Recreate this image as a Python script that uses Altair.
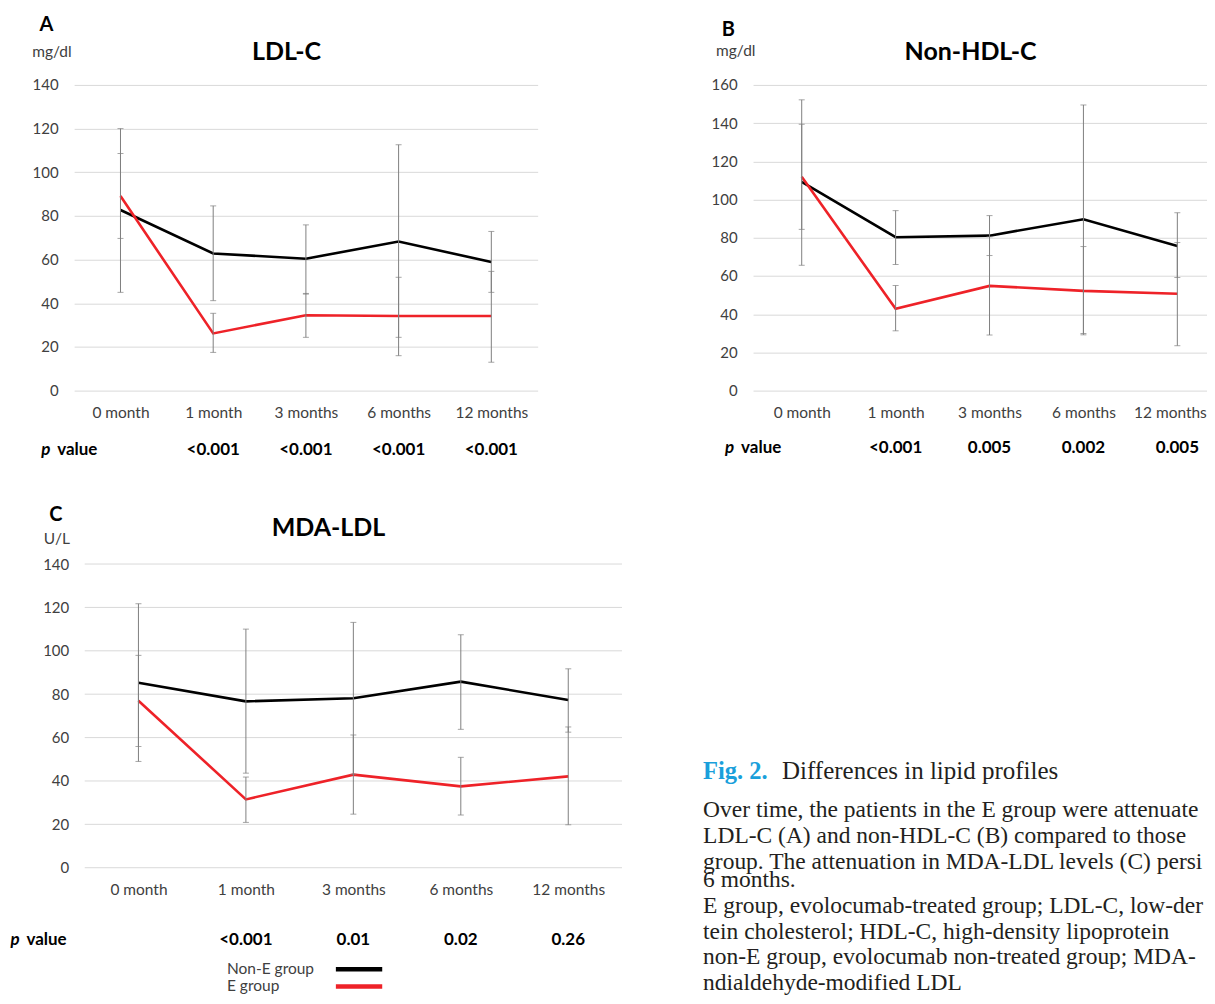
import altair as alt
import pandas as pd

times = ["0 month", "1 month", "3 months", "6 months", "12 months"]
groups = ["Non-E group", "E group"]
line_colors = ["#000000", "#ee2228"]

# Panel A: LDL-C (mg/dl)
a_nonE_mean = [82.7, 62.8, 60.4, 68.3, 58.9]
a_nonE_hi = [120.0, 84.6, 75.9, 112.6, 72.9]
a_nonE_lo = [45.0, 41.2, 44.2, 24.4, 45.0]
a_E_mean = [89.1, 26.2, 34.5, 34.2, 34.2]
a_E_hi = [108.6, 35.4, 44.5, 51.9, 54.6]
a_E_lo = [69.7, 17.5, 24.4, 16.0, 13.0]
a_p = ["", "<0.001", "<0.001", "<0.001", "<0.001"]

# Panel B: Non-HDL-C (mg/dl)
b_nonE_mean = [109.2, 80.3, 81.1, 89.7, 75.7]
b_nonE_hi = [152.2, 94.2, 91.6, 149.5, 93.1]
b_nonE_lo = [65.6, 66.0, 70.7, 29.9, 59.2]
b_E_mean = [111.9, 42.8, 54.8, 52.2, 50.7]
b_E_hi = [139.4, 55.0, 80.5, 75.4, 77.5]
b_E_lo = [84.4, 31.3, 29.1, 29.2, 23.5]
b_p = ["", "<0.001", "0.005", "0.002", "0.005"]

# Panel C: MDA-LDL (U/L)
c_nonE_mean = [85.3, 76.7, 78.1, 85.8, 77.3]
c_nonE_hi = [121.7, 110.0, 113.1, 107.4, 91.7]
c_nonE_lo = [49.0, 43.6, 43.1, 63.8, 62.5]
c_E_mean = [77.0, 31.5, 42.9, 37.5, 42.1]
c_E_hi = [97.9, 41.8, 61.2, 50.9, 64.9]
c_E_lo = [55.9, 20.9, 24.7, 24.3, 19.8]
c_p = ["", "<0.001", "0.01", "0.02", "0.26"]

caption_fig = "Fig. 2."
caption_head = "Differences in lipid profiles"
caption_block1 = [
    "Over time, the patients in the E group were attenuate",
    "LDL-C (A) and non-HDL-C (B) compared to those",
    "group. The attenuation in MDA-LDL levels (C) persi",
]
caption_block2 = [
    "6 months.",
    "E group, evolocumab-treated group; LDL-C, low-der",
    "tein cholesterol; HDL-C, high-density lipoprotein",
    "non-E group, evolocumab non-treated group; MDA-",
    "ndialdehyde-modified LDL",
]

SANS = "Lato"
SERIF = "Liberation Serif"
LABEL = "#404040"
GRID = "#d9d9d9"
ERR = "#808080"


def build_df(nonE, E):
    rows = []
    for g, (m, hi, lo) in zip(groups, [nonE, E]):
        for t, mv, hv, lv in zip(times, m, hi, lo):
            rows.append({"time": t, "group": g, "mean": mv, "hi": hv, "lo": lv})
    return pd.DataFrame(rows)


def panel(letter, unit, title, ymax, ystep, nonE, E, pvals, w, h, g,
          inset=0.0, xscale_extra=None, last_label_shift=None, legend=False):
    df = build_df(nonE, E)
    ticks = list(range(0, ymax + 1, ystep))
    sc = dict(type="point", padding=0.5, domain=times)
    if inset:
        sc["range"] = [inset, w]
    if xscale_extra:
        sc.update(xscale_extra)
    xaxis_kw = dict(
        labelAngle=0, ticks=False, domain=False, grid=False,
        labelPadding=15, labelFont=SANS, labelFontSize=15.5,
        labelColor=LABEL, title=None,
    )
    if last_label_shift is not None:
        test = "datum.label == '%s'" % times[-1]
        xaxis_kw["labelAlign"] = {"condition": {"test": test, "value": "right"}, "value": "center"}
        xaxis_kw["labelOffset"] = {"condition": {"test": test, "value": last_label_shift}, "value": 0}
    xenc = alt.X("time:O", sort=times, scale=alt.Scale(**sc), axis=alt.Axis(**xaxis_kw))
    yscale = alt.Scale(domain=[0, ymax], nice=False)
    yaxis = alt.Axis(
        values=ticks, ticks=False, domain=False,
        grid=not inset, gridColor=GRID, gridWidth=1, labelPadding=16,
        labelFont=SANS, labelFontSize=15, labelColor=LABEL, title=None,
        offset=-inset,
    )
    base = alt.Chart(df)
    layers = []
    if inset:
        layers.append(
            alt.Chart(pd.DataFrame({"v": ticks})).mark_rule(color=GRID, strokeWidth=1).encode(
                y=alt.Y("v:Q", scale=yscale, axis=yaxis, title=None),
                x=alt.value(inset), x2=alt.value(w),
            )
        )
    lines = base.mark_line(strokeWidth=2.6).encode(
        x=xenc,
        y=alt.Y("mean:Q", scale=yscale, axis=yaxis, title=None),
        color=alt.Color("group:N", scale=alt.Scale(domain=groups, range=line_colors), legend=None),
        order=alt.Order("group:N"),
    )
    bars = base.mark_rule(color=ERR, strokeWidth=1).encode(
        x=xenc, y=alt.Y("lo:Q", scale=yscale, axis=yaxis, title=None), y2="hi:Q"
    )
    cap_hi = base.mark_tick(color=ERR, size=6, thickness=1, orient="horizontal").encode(
        x=xenc, y=alt.Y("hi:Q", scale=yscale, axis=yaxis, title=None)
    )
    cap_lo = base.mark_tick(color=ERR, size=6, thickness=1, orient="horizontal").encode(
        x=xenc, y=alt.Y("lo:Q", scale=yscale, axis=yaxis, title=None)
    )
    pdf = pd.DataFrame({"time": times, "p": pvals})
    ptext = alt.Chart(pdf).mark_text(
        font=SANS, fontSize=17, fontWeight="bold", color="#000000", baseline="alphabetic"
    ).encode(x=xenc, y=alt.value(h + g["prow"]), text="p:N")
    one = pd.DataFrame({"a": [0]})
    p_it = alt.Chart(one).mark_text(
        text="p", font=SANS, fontSize=17, fontWeight="bold", fontStyle="italic",
        align="left", baseline="alphabetic", color="#000000",
    ).encode(x=alt.value(g["pval_x"]), y=alt.value(h + g["prow"]))
    p_val = alt.Chart(one).mark_text(
        text="value", font=SANS, fontSize=17, fontWeight="bold",
        align="left", baseline="alphabetic", color="#000000",
    ).encode(x=alt.value(g["pval_x"] + 16), y=alt.value(h + g["prow"]))
    t_letter = alt.Chart(one).mark_text(
        text=letter, font=SANS, fontSize=20, fontWeight="bold",
        align="left", baseline="alphabetic", color="#000000",
    ).encode(x=alt.value(g["letter"][0]), y=alt.value(g["letter"][1]))
    t_unit = alt.Chart(one).mark_text(
        text=unit, font=SANS, fontSize=15.5, align="left", baseline="alphabetic", color=LABEL,
    ).encode(x=alt.value(g["unit"][0]), y=alt.value(g["unit"][1]))
    t_title = alt.Chart(one).mark_text(
        text=title, font=SANS, fontSize=25, fontWeight="bold",
        align="center", baseline="alphabetic", color="#000000",
    ).encode(x=alt.value(g["title"][0]), y=alt.value(g["title"][1]))
    layers += [lines, bars, cap_hi, cap_lo, ptext, p_it, p_val, t_letter, t_unit, t_title]
    if legend:
        for i, (grp, col) in enumerate(zip(groups, line_colors)):
            ly = h + g["leg_y"] + i * 17.5
            layers.append(
                alt.Chart(pd.DataFrame({"t": [grp]})).mark_text(
                    font=SANS, fontSize=15.5, align="left", baseline="alphabetic", color=LABEL
                ).encode(x=alt.value(g["leg_x"]), y=alt.value(ly), text="t:N")
            )
            layers.append(
                alt.Chart(one).mark_rule(color=col, strokeWidth=4.5).encode(
                    x=alt.value(g["leg_line"][0]), x2=alt.value(g["leg_line"][1]),
                    y=alt.value(ly - 4.5),
                )
            )
    return alt.layer(*layers).properties(width=w, height=h)


A = panel("A", "mg/dl", "LDL-C", 140, 20,
          (a_nonE_mean, a_nonE_hi, a_nonE_lo), (a_E_mean, a_E_hi, a_E_lo), a_p,
          464, 306,
          {"prow": 64.3, "pval_x": -33, "letter": (-34.7, -54), "unit": (-42, -28), "title": (212.6, -25.4)})
B = panel("B", "mg/dl", "Non-HDL-C", 160, 20,
          (b_nonE_mean, b_nonE_hi, b_nonE_lo), (b_E_mean, b_E_hi, b_E_lo), b_p,
          454, 306,
          {"prow": 62, "pval_x": -28, "letter": (-31.3, -49), "unit": (-37, -28.5), "title": (217.7, -25.3)},
          xscale_extra={"padding": 0.4149, "align": 0.6244}, last_label_shift=29)
C = panel("C", "U/L", "MDA-LDL", 140, 20,
          (c_nonE_mean, c_nonE_hi, c_nonE_lo), (c_E_mean, c_E_hi, c_E_lo), c_p,
          548.4, 304,
          {"prow": 77.7, "pval_x": -63.8, "letter": (-25, -42.6), "unit": (-30.3, -20.3), "title": (254.6, -28.3),
           "leg_x": 153, "leg_y": 106, "leg_line": (262, 308.4)},
          inset=10.6, legend=True)

one = pd.DataFrame({"a": [0]})
CX = -50  # caption left, relative to caption cell
d_fig = alt.Chart(one).mark_text(
    text=caption_fig, font=SERIF, fontSize=24.5, fontWeight="bold", color="#1a9fdb",
    align="left", baseline="alphabetic",
).encode(x=alt.value(CX), y=alt.value(215))
d_head = alt.Chart(one).mark_text(
    text=caption_head, font=SERIF, fontSize=25, color="#231f20",
    align="left", baseline="alphabetic",
).encode(x=alt.value(CX + 79), y=alt.value(215))
d_b1 = alt.Chart(pd.DataFrame({"t": ["\n".join(caption_block1)]})).mark_text(
    font=SERIF, fontSize=23.5, color="#231f20", align="left", baseline="alphabetic",
    lineBreak="\n", lineHeight=26,
).encode(x=alt.value(CX), y=alt.value(253), text="t:N")
d_b2 = alt.Chart(pd.DataFrame({"t": ["\n".join(caption_block2)]})).mark_text(
    font=SERIF, fontSize=23.5, color="#231f20", align="left", baseline="alphabetic",
    lineBreak="\n", lineHeight=25.7,
).encode(x=alt.value(CX), y=alt.value(323.5), text="t:N")
D = alt.layer(d_fig, d_head, d_b1, d_b2).properties(width=10, height=10)

chart = alt.concat(
    A, B, C, D, columns=2,
    spacing={"row": 173.6, "column": 130.6},
    bounds="flush", align="each",
).properties(
    padding={"left": 2.2, "top": 6.5, "right": 0, "bottom": 0},
    background="white",
).configure_view(stroke=None)

chart.save("out.html", embed_options={"renderer": "svg", "actions": False})
